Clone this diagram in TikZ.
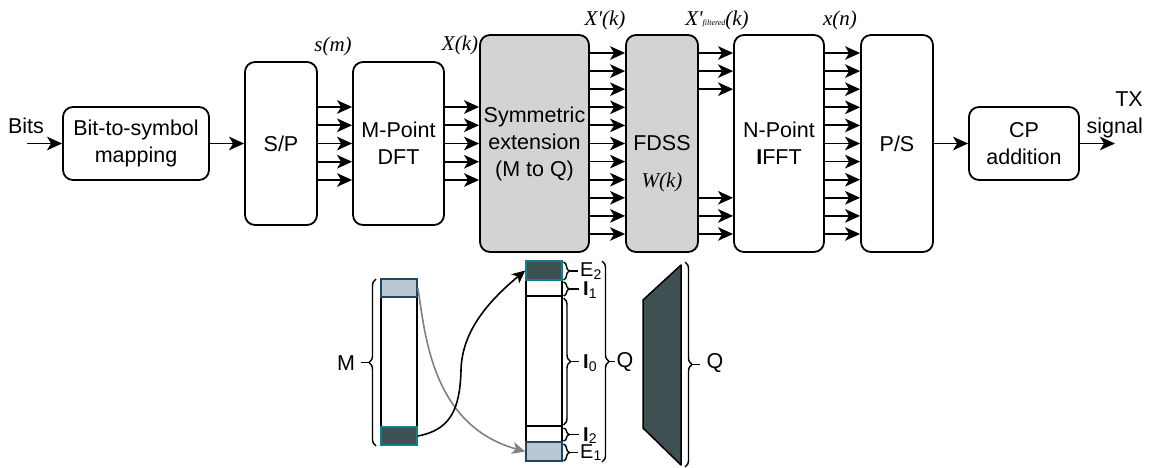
\documentclass[tikz,border=0pt]{standalone}
\usepackage{fontspec}
\setmainfont{Liberation Sans}
\newfontfamily\tms{Liberation Serif}
\usetikzlibrary{arrows.meta,decorations.pathreplacing}
\definecolor{boxgray}{HTML}{D3D3D3}
\definecolor{lightc}{HTML}{BAC8D3}
\definecolor{lightb}{HTML}{23445D}
\definecolor{darkc}{HTML}{3E5052}
\definecolor{tealb}{HTML}{0E8088}
\definecolor{grayarr}{HTML}{808080}
\newcommand{\sbs}[1]{\raisebox{-2.5pt}{\fontsize{14}{14}\selectfont #1}}
\begin{document}
\begin{tikzpicture}[x=1pt,y=-1pt,
  every node/.style={font=\fontsize{21.5}{27}\selectfont, inner sep=1pt},
  blk/.style={draw, line width=1.8pt, rounded corners=10pt, align=center, inner sep=0pt},
  arr/.style={line width=1.8pt, -{Stealth[length=15pt,width=13.5pt,inset=4pt]}},
  ital/.style={font=\fontsize{21}{24}\selectfont\tms\itshape},
  cell/.style={draw, line width=1.6pt, minimum width=36pt, inner sep=0pt},
  curv/.style={line width=1.6pt, -{Stealth[length=13pt,width=12pt,inset=3.5pt]}},
  brc/.style={line width=1.4pt, decorate, decoration={brace, amplitude=7pt}},
  tick/.style={line width=1.4pt},
  sub/.style={font=\fontsize{20}{24}\selectfont, inner sep=0pt}
]
\useasboundingbox (0,0) rectangle (1149,468);

% ---- top chain ----
\node[blk, minimum width=146pt, minimum height=73pt] (b2s) at (136,143.5) {Bit-to-symbol\\mapping};
\node[blk, minimum width=72pt, minimum height=163pt] (sp) at (281,143.5) {S/P};
\node[blk, minimum width=91pt, minimum height=163pt] (dft) at (398.5,143.5) {M-Point\\DFT};
\node[blk, fill=boxgray, minimum width=109pt, minimum height=217pt] (sym) at (534.5,143.5) {Symmetric\\extension\\(M to Q)};
\node[blk, fill=boxgray, minimum width=72pt, minimum height=217pt] (fdss) at (662,143.5) {FDSS};
\node[blk, minimum width=90pt, minimum height=217pt] (ifft) at (779,143.5) {N-Point\\\textbf{I}FFT};
\node[blk, minimum width=72pt, minimum height=217pt] (ps) at (897,143.5) {P/S};
\node[blk, minimum width=110pt, minimum height=73pt] (cp) at (1024,143.5) {CP\\addition};

\node (bits) at (26,126) {Bits};
\node[align=right, anchor=east] (tx) at (1144,115) {TX\\signal};
\coordinate (bitsin) at (27,143.5);
\coordinate (txout) at (1115,143.5);

\node[ital] (sm) at (333,46) {s(m)};
\node[ital] (xk) at (460,45) {X(k)};
\node[ital] (xpk) at (605,20) {X'(k)};
\node[ital] (xfk) at (717,20) {X'{\fontsize{8}{8}\selectfont filtered}(k)};
\node[ital] (xn) at (840,20) {x(n)};
\node[ital] (wk) at (662,182) {W(k)};

\draw[arr] (bitsin) -- (b2s.west);
\draw[arr] (b2s.east) -- (sp.west);
\foreach \k in {-2,...,2}{
  \draw[arr] ([yshift=\k*18.25pt]sp.east) -- ([yshift=\k*18.25pt]dft.west);
  \draw[arr] ([yshift=\k*18.25pt]dft.east) -- ([yshift=\k*18.25pt]sym.west);
}
\foreach \k in {-5,...,5}{
  \draw[arr] ([yshift=\k*18.1pt]sym.east) -- ([yshift=\k*18.1pt]fdss.west);
  \draw[arr] ([yshift=\k*18.1pt]ifft.east) -- ([yshift=\k*18.1pt]ps.west);
}
\foreach \k in {-5,-4,-3,3,4,5}{
  \draw[arr] ([yshift=\k*18.1pt]fdss.east) -- ([yshift=\k*18.1pt]ifft.west);
}
\draw[arr] (ps.east) -- (cp.west);
\draw[arr] (cp.east) -- (txout);

% ---- bottom: M column ----
\node[cell, minimum height=166pt] (mcol) at (399,362) {};
\node[cell, fill=lightc, draw=lightb, minimum height=18pt] (mtop) at (399,288) {};
\node[cell, fill=darkc, draw=tealb, minimum height=18pt] (mbot) at (399,436) {};

% ---- bottom: Q column ----
\node[cell, minimum height=200pt] (qcol) at (544,361) {};
\node[cell, minimum height=16pt] (i1) at (544,288) {};
\node[cell, minimum height=130pt] (i0) at (544,361) {};
\node[cell, minimum height=16pt] (i2) at (544,434) {};
\node[cell, fill=darkc, draw=tealb, minimum height=19pt] (e2) at (544,270.5) {};
\node[cell, fill=lightc, draw=lightb, minimum height=19pt] (e1) at (544,451.5) {};

% braces
\draw[brc] (376,446) -- (376,279);
\draw[tick] (369,362.5) -- (361,362.5);
\node (lm) at (346,363) {M};

\draw[brc, decoration={brace, amplitude=6pt}] (563.5,262) -- (563.5,280);
\draw[tick] (569.5,271) -- (578,271);
\node[sub, anchor=west] (le2) at (580,271) {E\sbs{2}};

\draw[brc, decoration={brace, amplitude=6pt}] (563.5,282) -- (563.5,296);
\draw[tick] (569.5,289) -- (579,289);
\node[sub, anchor=west] (li1) at (583,290) {\textbf{I}\sbs{1}};

\draw[brc] (563.5,298) -- (563.5,425);
\draw[tick] (570.5,361.5) -- (579,361.5);
\node[sub, anchor=west] (li0) at (583,363) {\textbf{I}\sbs{0}};

\draw[brc, decoration={brace, amplitude=6pt}] (563.5,428) -- (563.5,441);
\draw[tick] (569.5,434.5) -- (579,434.5);
\node[sub, anchor=west] (li2) at (583,435.5) {\textbf{I}\sbs{2}};

\draw[brc, decoration={brace, amplitude=6pt}] (563.5,444) -- (563.5,461);
\draw[tick] (569.5,452.5) -- (578,452.5);
\node[sub, anchor=west] (le1) at (580,452.5) {E\sbs{1}};

\draw[brc] (602,261) -- (602,462);
\draw[tick] (609,361.5) -- (615,361.5);
\node (lq1) at (625,362) {Q};

% trapezoid
\draw[fill=darkc, line width=1.5pt, line join=round] (643,300) -- (681,265) -- (681,465) -- (643,428) -- cycle;
\draw[brc] (685,262) -- (685,467);
\draw[tick] (692,364.5) -- (700,364.5);
\node (lq2) at (715,363) {Q};

% curved arrows
\draw[curv, draw=grayarr] (mtop.east) .. controls (425,330) and (430,425) .. (e1.west);
\draw[curv] (mbot.east) .. controls (450,430) and (460,410) .. (461,370) .. controls (462,330) and (490,300) .. (e2.west);
\end{tikzpicture}
\end{document}
